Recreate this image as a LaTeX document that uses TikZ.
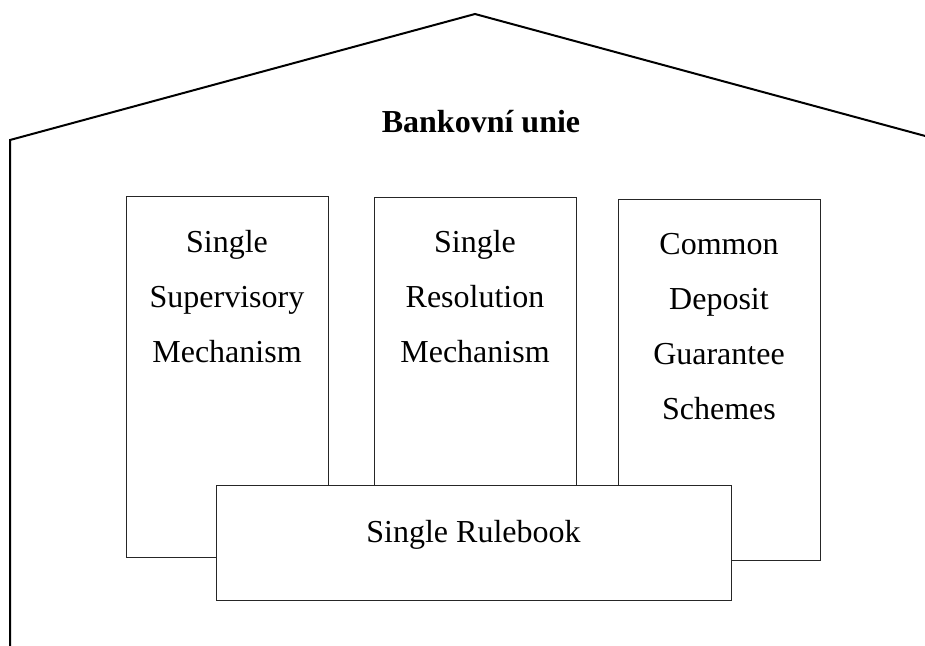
\documentclass[tikz,border=0pt]{standalone}
\usepackage{fontspec}
\setmainfont{Liberation Serif}
\begin{document}
\begin{tikzpicture}[x=1pt,y=-1pt,
  house/.style={line width=2pt,line join=miter},
  pillar/.style={draw=black!85,line width=1pt,fill=white,inner sep=0pt,
    minimum width=202pt,minimum height=361pt},
  basebox/.style={draw=black!85,line width=1pt,fill=white,inner sep=0pt,
    minimum width=515pt,minimum height=115pt},
  label/.style={inner sep=0pt,anchor=base,align=center,
    font=\fontsize{32}{55}\selectfont},
  title/.style={inner sep=0pt,anchor=base,
    font=\fontsize{32}{38}\selectfont\bfseries}]
\useasboundingbox (0,0) rectangle (925,645);
\begin{scope}
  \clip (0,0) rectangle (925,645);
  % outline of the house: wall and roof
  \coordinate (wallfoot) at (10,646);
  \coordinate (leftcorner) at (10,140);
  \coordinate (peak) at (475,14);
  \coordinate (rightcorner) at (940,140);
  \draw[house] (wallfoot) -- (leftcorner) -- (peak) -- (rightcorner);
\end{scope}

\node[title] (union) at (481,132) {Bankovní unie};

% the three pillars
\node[pillar] (ssm) at (227,376.5) {};
\node[pillar] (srm) at (475,378) {};
\node[pillar] (dgs) at (719,379.5) {};

% multi-line labels: the base anchor sits on the last line
\node[label] (ssmtext) at (227,362) {Single\\Supervisory\\Mechanism};
\node[label] (srmtext) at (475,362) {Single\\Resolution\\Mechanism};
\node[label] (dgstext) at (719,419) {Common\\Deposit\\Guarantee\\Schemes};

% common foundation
\node[basebox] (rulebook) at (473.5,542.5) {};
\node[label] (rulebooktext) at (473.5,542) {Single Rulebook};
\end{tikzpicture}
\end{document}
